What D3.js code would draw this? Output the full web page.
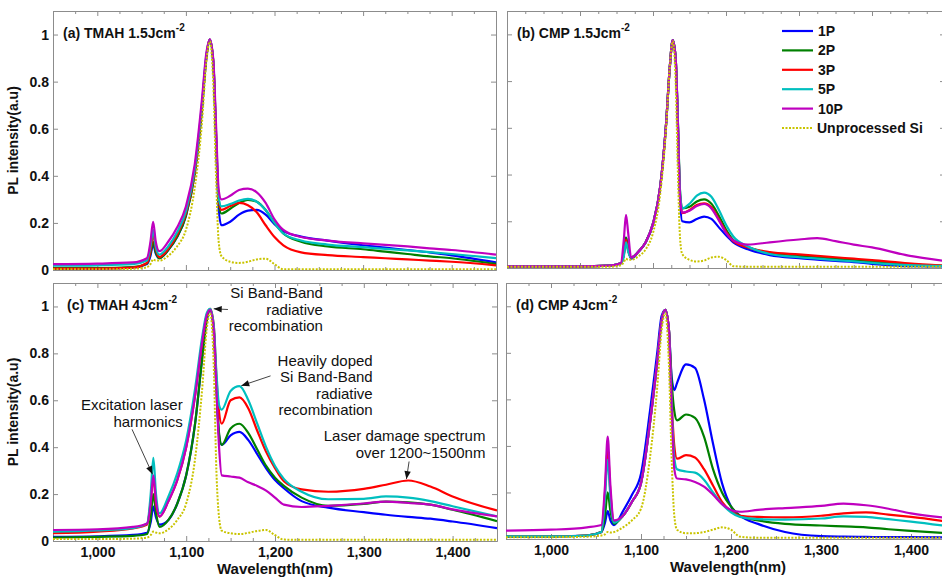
<!DOCTYPE html>
<html>
<head>
<meta charset="utf-8">
<script src="https://cdn.jsdelivr.net/npm/d3@7"></script>
<style>
body { margin: 0; background: #fff; }
text { font-family: "Liberation Sans", Arial, sans-serif; }
</style>
</head>
<body>
<svg width="942" height="578"></svg>
<script>
/* wavelength grid (nm) used by panels a, c, d */
var wl = [950,1000,1040,1056,1060,1063,1066,1070,1080,1090,1100,1110,1118,1123,1127,1131,1134,1137,
          1140,1150,1160,1170,1180,1190,1200,1210,1230,1260,1300,1325,1350,1375,1400,1450];
/* panel b is plotted over a wider range */
var wlB = [900,950,1000,1040,1056,1060,1063,1066,1070,1080,1090,1100,1110,1118,1123,1127,1131,1134,1137,
           1140,1150,1160,1170,1180,1190,1200,1210,1230,1260,1300,1325,1350,1375,1400,1450,1500];

var seriesNames = ["1P", "2P", "3P", "5P", "10P", "Unprocessed Si"];
var seriesColors = ["#0000ff", "#008000", "#ff0000", "#00bfbf", "#bf00bf", "#c9c400"];

// (a) TMAH 1.5 J/cm2
var a1P  = [0.006,0.006,0.01,0.025,0.06,0.11,0.07,0.05, 0.085,0.14,0.23,0.41,0.68,0.9, 0.975,0.87,0.55,0.26, 0.19,0.205,0.235,0.252,0.255,0.235,0.195,0.165, 0.142,0.125,0.105,0.095,0.085,0.075,0.062,0.032];
var a2P  = [0.008,0.008,0.012,0.028,0.07,0.12,0.075,0.05, 0.085,0.14,0.23,0.41,0.68,0.9, 0.978,0.88,0.57,0.29, 0.24,0.26,0.285,0.298,0.29,0.255,0.2,0.155, 0.12,0.1,0.088,0.078,0.068,0.058,0.05,0.026];
var a3P  = [0.006,0.006,0.01,0.03,0.08,0.15,0.09,0.055, 0.09,0.15,0.24,0.42,0.69,0.9, 0.98,0.88,0.58,0.3, 0.255,0.272,0.285,0.275,0.245,0.19,0.14,0.105, 0.075,0.063,0.055,0.05,0.045,0.04,0.035,0.02];
var a5P  = [0.018,0.02,0.025,0.04,0.1,0.17,0.1,0.065, 0.1,0.16,0.25,0.43,0.7,0.91, 0.98,0.88,0.59,0.31, 0.27,0.28,0.295,0.302,0.29,0.255,0.2,0.155, 0.125,0.108,0.097,0.09,0.083,0.076,0.068,0.05];
var a10P = [0.025,0.027,0.032,0.05,0.12,0.205,0.12,0.08, 0.12,0.18,0.27,0.45,0.72,0.92, 0.98,0.89,0.62,0.34, 0.3,0.315,0.34,0.346,0.33,0.285,0.215,0.17, 0.14,0.125,0.113,0.107,0.1,0.092,0.085,0.065];
var aSi  = [0.003,0.003,0.005,0.012,0.025,0.045,0.04,0.04, 0.06,0.1,0.17,0.35,0.62,0.88, 0.97,0.78,0.4,0.12, 0.06,0.035,0.03,0.035,0.045,0.048,0.025,0.003, 0.003,0.003,0.003,0.003,0.003,0.003,0.003,0.003];

// (b) CMP 1.5 J/cm2
var b1P  = [0.007,0.007,0.007,0.01, 0.02,0.06,0.13,0.08,0.04, 0.07,0.11,0.19,0.35,0.62,0.86, 0.975,0.9,0.62,0.3, 0.2,0.195,0.21,0.22,0.21,0.175,0.14,0.11, 0.08,0.055,0.042,0.036,0.03,0.025,0.018,0.008,0.007];
var b2P  = [0.007,0.007,0.007,0.01, 0.02,0.06,0.13,0.08,0.045, 0.07,0.11,0.19,0.35,0.62,0.86, 0.975,0.9,0.64,0.33, 0.255,0.262,0.285,0.294,0.275,0.225,0.165,0.12, 0.09,0.063,0.052,0.046,0.04,0.034,0.028,0.016,0.01];
var b3P  = [0.007,0.007,0.007,0.01, 0.02,0.055,0.12,0.075,0.045, 0.07,0.11,0.19,0.35,0.62,0.86, 0.975,0.9,0.63,0.31, 0.235,0.248,0.27,0.277,0.26,0.21,0.155,0.115, 0.088,0.068,0.058,0.052,0.046,0.04,0.034,0.02,0.01];
var b5P  = [0.007,0.007,0.007,0.01, 0.02,0.05,0.11,0.07,0.045, 0.07,0.11,0.19,0.35,0.62,0.86, 0.975,0.9,0.64,0.33, 0.255,0.275,0.31,0.323,0.305,0.25,0.185,0.135, 0.092,0.06,0.046,0.04,0.034,0.028,0.022,0.012,0.008];
var b10P = [0.007,0.007,0.007,0.01, 0.02,0.12,0.227,0.15,0.045, 0.07,0.11,0.19,0.35,0.62,0.86, 0.975,0.9,0.63,0.31, 0.237,0.245,0.265,0.274,0.255,0.205,0.15,0.118, 0.1,0.11,0.122,0.128,0.115,0.1,0.088,0.053,0.03];
var bSi  = [0.005,0.005,0.005,0.005, 0.012,0.025,0.04,0.035,0.035, 0.05,0.08,0.15,0.32,0.6,0.86, 0.97,0.8,0.42,0.13, 0.06,0.035,0.028,0.032,0.045,0.048,0.035,0.008, 0.005,0.005,0.005,0.005,0.005,0.005,0.005,0.005,0.005];

// (c) TMAH 4 J/cm2
var c1P  = [0.018,0.02,0.026,0.035,0.08,0.147,0.1,0.07, 0.09,0.16,0.28,0.5,0.78,0.94, 0.985,0.9,0.65,0.45, 0.41,0.45,0.465,0.43,0.37,0.31,0.26,0.225, 0.17,0.142,0.123,0.112,0.103,0.095,0.083,0.055];
var c2P  = [0.015,0.018,0.022,0.03,0.1,0.2,0.12,0.06, 0.09,0.16,0.28,0.5,0.78,0.94, 0.985,0.9,0.66,0.46, 0.41,0.48,0.5,0.46,0.39,0.32,0.27,0.235, 0.185,0.15,0.158,0.168,0.165,0.155,0.133,0.085];
var c3P  = [0.033,0.04,0.054,0.07,0.17,0.27,0.16,0.104, 0.17,0.26,0.4,0.62,0.85,0.96, 0.99,0.92,0.7,0.55, 0.5,0.6,0.612,0.565,0.47,0.38,0.31,0.255, 0.22,0.21,0.222,0.24,0.258,0.232,0.19,0.13];
var c5P  = [0.04,0.045,0.055,0.075,0.2,0.354,0.2,0.118, 0.19,0.29,0.43,0.65,0.87,0.97, 0.99,0.92,0.72,0.58, 0.56,0.64,0.66,0.6,0.5,0.4,0.32,0.265, 0.21,0.178,0.18,0.19,0.185,0.17,0.148,0.105];
var c10P = [0.047,0.05,0.06,0.075,0.16,0.28,0.17,0.104, 0.17,0.26,0.4,0.62,0.85,0.96, 0.985,0.9,0.65,0.4, 0.28,0.275,0.27,0.25,0.235,0.215,0.185,0.155, 0.145,0.15,0.16,0.168,0.162,0.155,0.135,0.105];
var cSi  = [0.008,0.008,0.01,0.015,0.025,0.04,0.036,0.033, 0.05,0.09,0.16,0.35,0.65,0.9, 0.97,0.75,0.3,0.1, 0.044,0.033,0.03,0.035,0.043,0.047,0.025,0.006, 0.005,0.005,0.005,0.005,0.005,0.005,0.005,0.005];

// (d) CMP 4 J/cm2
var d1P  = [0.01,0.011,0.015,0.03,0.07,0.12,0.08,0.06, 0.12,0.19,0.28,0.55,0.8,0.96, 0.985,0.9,0.7,0.64, 0.67,0.75,0.735,0.6,0.41,0.24,0.14,0.1, 0.065,0.03,0.012,0.01,0.009,0.008,0.008,0.007];
var d2P  = [0.011,0.011,0.015,0.03,0.1,0.2,0.12,0.065, 0.1,0.16,0.24,0.5,0.76,0.94, 0.985,0.9,0.68,0.55, 0.51,0.535,0.52,0.44,0.3,0.2,0.14,0.1, 0.08,0.065,0.058,0.054,0.05,0.042,0.035,0.022];
var d3P  = [0.011,0.011,0.015,0.03,0.2,0.385,0.2,0.075, 0.1,0.16,0.24,0.5,0.76,0.94, 0.985,0.9,0.6,0.4, 0.345,0.36,0.35,0.3,0.23,0.16,0.12,0.1, 0.095,0.093,0.1,0.11,0.114,0.105,0.095,0.07];
var d5P  = [0.011,0.011,0.015,0.03,0.18,0.34,0.18,0.07, 0.1,0.16,0.24,0.5,0.76,0.94, 0.985,0.9,0.58,0.35, 0.3,0.29,0.285,0.255,0.2,0.15,0.115,0.095, 0.085,0.083,0.088,0.097,0.095,0.085,0.075,0.05];
var d10P = [0.036,0.04,0.05,0.06,0.23,0.44,0.23,0.08, 0.1,0.16,0.24,0.5,0.76,0.94, 0.985,0.9,0.56,0.3, 0.26,0.256,0.245,0.225,0.19,0.15,0.125,0.117, 0.125,0.133,0.142,0.152,0.145,0.13,0.11,0.088];
var dSi  = [0.008,0.008,0.01,0.015,0.02,0.03,0.028,0.03, 0.05,0.08,0.13,0.35,0.65,0.9, 0.97,0.75,0.35,0.1, 0.04,0.025,0.025,0.03,0.04,0.05,0.04,0.01, 0.005,0.005,0.005,0.005,0.005,0.005,0.005,0.005];

var yTicks = [0, 0.2, 0.4, 0.6, 0.8, 1];

// annotation text for panel (c), positions in data units
var notes = [
    {lines: ["Si Band-Band", "radiative", "recombination"], tx: 1254, ty: 1.034, from: [1147, 0.987], to: [1131, 0.99]},
    {lines: ["Heavily doped", "Si Band-Band", "radiative", "recombination"], tx: 1310, ty: 0.747, from: [1195, 0.704], to: [1162, 0.662]},
    {lines: ["Excitation laser", "harmonics"], tx: 1096, ty: 0.558, from: [1039, 0.476], to: [1062, 0.285]},
    {lines: ["Laser damage spectrum", "over 1200~1500nm"], tx: 1437, ty: 0.425, from: [1351, 0.339], to: [1348, 0.264]}
];

var panels = [
    {id: "a", left: 53, top: 11, width: 443, height: 259, domain: [950, 1450], wl: wl,
     series: [a1P, a2P, a3P, a5P, a10P, aSi], title: "(a) TMAH 1.5Jcm", xlab: false, ylab: true},
    {id: "b", left: 507, top: 11, width: 438, height: 257, domain: [900, 1500], wl: wlB,
     series: [b1P, b2P, b3P, b5P, b10P, bSi], title: "(b) CMP 1.5Jcm", xlab: false, ylab: false},
    {id: "c", left: 53, top: 283, width: 444, height: 258, domain: [950, 1450], wl: wl,
     series: [c1P, c2P, c3P, c5P, c10P, cSi], title: "(c) TMAH 4Jcm", xlab: true, ylab: true},
    {id: "d", left: 506, top: 283, width: 450, height: 256, domain: [950, 1450], wl: wl,
     series: [d1P, d2P, d3P, d5P, d10P, dSi], title: "(d) CMP 4Jcm", xlab: true, ylab: false}
];

var svg = d3.select("svg");
var defs = svg.append("defs");
defs.append("marker")
    .attr("id", "arrow")
    .attr("viewBox", "0 0 10 10")
    .attr("refX", 10).attr("refY", 5)
    .attr("markerWidth", 9).attr("markerHeight", 8)
    .attr("markerUnits", "userSpaceOnUse")
    .attr("orient", "auto")
    .append("path").attr("d", "M0,1L10,5L0,9Z").attr("fill", "#111");

var fontFam = "'Liberation Sans', Arial, sans-serif";

function styleAxis(g, labels) {
    g.attr("font-family", fontFam).attr("font-size", 14).attr("font-weight", "bold");
    g.selectAll("path.domain").attr("stroke", "#8c8c8c");
    g.selectAll(".tick line").attr("stroke", "#8c8c8c");
    g.selectAll(".tick text").attr("fill", "#111");
    if (!labels) g.selectAll(".tick text").remove();
}

panels.forEach(function(p) {
    var x = d3.scaleLinear().domain(p.domain).range([p.left, p.left + p.width]);
    var y = d3.scaleLinear().domain([0, 1.1]).range([p.top + p.height, p.top]);
    p.x = x; p.y = y;

    var major = d3.range(Math.ceil(p.domain[0] / 100) * 100, p.domain[1] + 1, 100);
    var minor = d3.range(p.domain[0], p.domain[1] + 1, 25).filter(function(v) { return v % 100 !== 0; });

    defs.append("clipPath").attr("id", "clip-" + p.id)
        .append("rect").attr("x", p.left).attr("y", p.top)
        .attr("width", p.width).attr("height", p.height);

    var bottom = p.top + p.height, right = p.left + p.width;

    // minor ticks top & bottom
    svg.append("g").attr("transform", "translate(0," + bottom + ")")
        .call(d3.axisBottom(x).tickValues(minor).tickSize(-3).tickSizeOuter(0).tickFormat(""))
        .call(styleAxis, false);
    svg.append("g").attr("transform", "translate(0," + p.top + ")")
        .call(d3.axisTop(x).tickValues(minor).tickSize(-3).tickSizeOuter(0).tickFormat(""))
        .call(styleAxis, false);

    // major axes
    svg.append("g").attr("transform", "translate(0," + bottom + ")")
        .call(d3.axisBottom(x).tickValues(major).tickSize(-5).tickSizeOuter(0)
            .tickPadding(6).tickFormat(d3.format(",")))
        .call(styleAxis, p.xlab);
    svg.append("g").attr("transform", "translate(0," + p.top + ")")
        .call(d3.axisTop(x).tickValues(major).tickSize(-5).tickSizeOuter(0))
        .call(styleAxis, false);
    svg.append("g").attr("transform", "translate(" + p.left + ",0)")
        .call(d3.axisLeft(y).tickValues(yTicks).tickSize(-5).tickSizeOuter(0)
            .tickPadding(4).tickFormat(d3.format("~g")))
        .call(styleAxis, p.ylab);
    svg.append("g").attr("transform", "translate(" + right + ",0)")
        .call(d3.axisRight(y).tickValues(yTicks).tickSize(-5).tickSizeOuter(0))
        .call(styleAxis, false);

    var line = d3.line()
        .curve(d3.curveMonotoneX)
        .x(function(d) { return x(d[0]); })
        .y(function(d) { return y(d[1]); });

    var plot = svg.append("g").attr("clip-path", "url(#clip-" + p.id + ")");
    p.series.forEach(function(vals, i) {
        var pts = p.wl.map(function(w, k) { return [w, vals[k]]; });
        plot.append("path")
            .attr("d", line(pts))
            .attr("fill", "none")
            .attr("stroke", seriesColors[i])
            .attr("stroke-width", i === 5 ? 2 : 2.2)
            .attr("stroke-dasharray", i === 5 ? "2,1.5" : null)
            .attr("stroke-linejoin", "round");
    });

    // panel title with superscript
    var t = svg.append("text")
        .attr("x", p.left + (p.id === "c" ? 14 : 10)).attr("y", p.top + 27)
        .attr("font-family", fontFam).attr("font-size", 14).attr("font-weight", "bold")
        .attr("fill", "#111")
        .text(p.title);
    t.append("tspan").attr("dy", -7).attr("font-size", 10).text("-2");

    if (p.ylab) {
        svg.append("text")
            .attr("transform", "translate(18," + (p.top + p.height / 2) + ") rotate(-90)")
            .attr("text-anchor", "middle")
            .attr("font-family", fontFam).attr("font-size", 14).attr("font-weight", "bold")
            .attr("fill", "#111")
            .text("PL intensity(a.u)");
    }
    if (p.xlab) {
        svg.append("text")
            .attr("x", p.left + 222).attr("y", bottom + 33)
            .attr("text-anchor", "middle")
            .attr("font-family", fontFam).attr("font-size", 15).attr("font-weight", "bold")
            .attr("fill", "#111")
            .text("Wavelength(nm)");
    }
});

// legend inside panel (b)
var pb = panels[1];
var legend = svg.append("g").attr("transform", "translate(" + (pb.left + 275) + "," + (pb.top + 20) + ")");
seriesNames.forEach(function(name, i) {
    var row = legend.append("g").attr("transform", "translate(0," + (i * 19.4) + ")");
    row.append("line")
        .attr("x1", 0).attr("x2", 31)
        .attr("stroke", seriesColors[i])
        .attr("stroke-width", 2.2)
        .attr("stroke-dasharray", i === 5 ? "2,1.5" : null);
    row.append("text")
        .attr("x", i === 5 ? 35 : 36).attr("dy", "0.36em")
        .attr("font-family", fontFam).attr("font-size", 14).attr("font-weight", "bold")
        .attr("fill", "#111")
        .text(name);
});

// annotations in panel (c)
var pc = panels[2];
notes.forEach(function(n) {
    var txt = svg.append("text")
        .attr("text-anchor", "end")
        .attr("font-family", fontFam).attr("font-size", 15)
        .attr("fill", "#111");
    n.lines.forEach(function(s, i) {
        txt.append("tspan")
            .attr("x", pc.x(n.tx))
            .attr("y", pc.y(n.ty) + i * 16.5)
            .text(s);
    });
    svg.append("line")
        .attr("x1", pc.x(n.from[0])).attr("y1", pc.y(n.from[1]))
        .attr("x2", pc.x(n.to[0])).attr("y2", pc.y(n.to[1]))
        .attr("stroke", "#444").attr("stroke-width", 1)
        .attr("marker-end", "url(#arrow)");
});
</script>
</body>
</html>
